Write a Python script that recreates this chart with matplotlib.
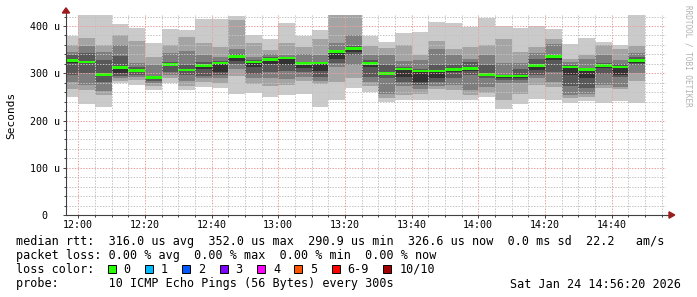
import numpy as np
import matplotlib
matplotlib.use("Agg")
import matplotlib.pyplot as plt
from matplotlib.patches import Polygon, Rectangle
from matplotlib.lines import Line2D
from matplotlib.ticker import MultipleLocator

# start of each 5 minute step, minutes after 12:00
step_start = np.arange(-5, 170, 5)

# the 10 pings of every step, sorted low -> high (units: us)
ping01 = [250, 235, 229, 279, 275, 264, 279, 265, 271, 268, 257, 258, 250, 255, 257, 229, 243, 269,
          260, 240, 244, 244, 244, 243, 243, 250, 224, 234, 245, 243, 236, 242, 238, 242, 238]
ping02 = [267, 265, 254, 283, 285, 272, 289, 273, 281, 280, 295, 278, 274, 276, 284, 277, 282, 291,
          274, 248, 253, 257, 267, 264, 255, 258, 243, 257, 275, 271, 247, 250, 268, 266, 283]
ping03 = [281, 275, 263, 289, 292, 280, 297, 284, 290, 290, 310, 290, 290, 288, 293, 283, 314, 317,
          282, 257, 272, 266, 274, 275, 265, 270, 280, 279, 290, 281, 253, 256, 275, 271, 300]
ping04 = [296, 301, 282, 294, 297, 284, 303, 296, 294, 296, 320, 299, 302, 304, 303, 293, 321, 338,
          292, 290, 282, 276, 282, 289, 296, 291, 286, 286, 297, 303, 273, 269, 298, 292, 318]
ping05 = [322, 322, 298, 301, 303, 289, 315, 305, 310, 303, 326, 313, 320, 318, 311, 305, 330, 346,
          314, 297, 293, 282, 291, 302, 305, 296, 289, 290, 307, 327, 297, 290, 312, 297, 322]
ping06 = [330, 326, 301, 313, 306, 291, 320, 309, 316, 322, 338, 325, 329, 331, 319, 322, 346, 352,
          321, 302, 309, 305, 305, 308, 310, 300, 295, 294, 318, 336, 313, 308, 318, 313, 326]
ping07 = [339, 342, 329, 336, 313, 293, 324, 317, 323, 326, 341, 327, 334, 335, 324, 324, 349, 357,
          328, 318, 313, 310, 317, 317, 324, 318, 297, 310, 330, 338, 317, 312, 321, 320, 335]
ping08 = [346, 357, 346, 360, 321, 317, 342, 347, 338, 335, 352, 334, 341, 338, 340, 339, 363, 380,
          339, 339, 325, 329, 352, 339, 331, 338, 321, 321, 342, 362, 324, 330, 338, 327, 342]
ping09 = [359, 374, 360, 381, 368, 335, 360, 376, 363, 356, 412, 365, 349, 363, 356, 372, 440, 440,
          357, 353, 360, 339, 369, 352, 356, 360, 372, 345, 356, 372, 331, 339, 360, 352, 358]
ping10 = [379, 440, 440, 404, 396, 364, 393, 391, 415, 414, 421, 380, 373, 406, 378, 391, 450, 450,
          379, 366, 385, 388, 408, 406, 398, 417, 399, 395, 400, 394, 362, 374, 367, 359, 450]

median = [327, 324, 298, 312, 306, 290.9, 318, 307, 317, 322, 336, 324, 329, 332, 320, 322, 346, 352,
          321, 300, 309, 305, 305, 308, 310, 298, 294, 294, 317, 336, 313, 308, 317, 313, 326.6]

xtick_pos = [0, 20, 40, 60, 80, 100, 120, 140, 160]
xtick_labels = ["12:00", "12:20", "12:40", "13:00", "13:20", "13:40", "14:00", "14:20", "14:40"]
ytick_pos = [0, 100, 200, 300, 400]
ytick_labels = ["0  ", "100 u", "200 u", "300 u", "400 u"]

loss_labels = ["0", "1", "2", "3", "4", "5", "6-9", "10/10"]
loss_colors = ["#26ff00", "#00b8ff", "#0059ff", "#7e00ff", "#ff00ff", "#ff5500", "#ff0000", "#a10000"]

legend_rtt = "median rtt:  316.0 us avg  352.0 us max  290.9 us min  326.6 us now  0.0 ms sd  22.2   am/s"
legend_loss = "packet loss: 0.00 % avg  0.00 % max  0.00 % min  0.00 % now"
legend_probe = "probe:       10 ICMP Echo Pings (56 Bytes) every 300s"
stamp = "Sat Jan 24 14:56:20 2026"

W, H = 697, 297
MONO = "DejaVu Sans Mono"
smoke_grays = ["#cacaca", "#a4a4a4", "#7e7e7e", "#585858", "#323232"]
arrow_col = "#9b1c1c"
axis_col = "#404040"

fig = plt.figure(figsize=(W / 100, H / 100), dpi=100)
fig.patch.set_facecolor("white")
ax = fig.add_axes([66 / W, (H - 215) / H, 600 / W, 200 / H])

# smoke: band between ping j and j+1, darker towards the middle
pings = [ping01, ping02, ping03, ping04, ping05, ping06, ping07, ping08, ping09, ping10]
for j in range(9):
    lo = np.array(pings[j], dtype=float)
    hi = np.array(pings[j + 1], dtype=float)
    ax.bar(step_start, hi - lo, bottom=lo, width=5, align="edge",
           color=smoke_grays[min(j, 8 - j)], linewidth=0, antialiased=False, zorder=1)

# median line in loss colour
med = np.array(median)
ax.bar(step_start, 5.6, bottom=med - 2.8, width=5, align="edge",
       color=loss_colors[0], linewidth=0, antialiased=False, zorder=1.5)

ax.set_xlim(-3.67, 176.33)
ax.set_ylim(0, 423.3)

ax.set_xticks(xtick_pos)
ax.set_xticklabels(xtick_labels)
ax.xaxis.set_minor_locator(MultipleLocator(5))
ax.set_yticks(ytick_pos)
ax.set_yticklabels(ytick_labels)
ax.yaxis.set_minor_locator(MultipleLocator(20))

for lab in ax.get_xticklabels() + ax.get_yticklabels():
    lab.set_fontfamily(MONO)
    lab.set_fontsize(7.2)
ax.tick_params(axis="both", which="major", length=2, width=0.7, color=axis_col, pad=2.2)
ax.tick_params(axis="both", which="minor", length=1.3, width=0.7, color=axis_col)
ax.tick_params(axis="x", pad=1.5)

ax.set_axisbelow(False)
ax.grid(which="minor", color="#c4c4c4", linestyle=(0, (1.4, 1.4)), linewidth=0.72)
ax.grid(which="major", color="#eaa0a0", linestyle=(0, (1.4, 1.4)), linewidth=0.72)

for s in ["top", "right"]:
    ax.spines[s].set_visible(False)
for s in ["left", "bottom"]:
    ax.spines[s].set_color(axis_col)
    ax.spines[s].set_linewidth(0.8)
    ax.spines[s].set_zorder(3)

# axis extensions with arrows
ax.add_line(Line2D([0, 0], [1, 1.02], transform=ax.transAxes, color=axis_col, lw=0.8, clip_on=False))
ax.add_line(Line2D([1, 1.006], [0, 0], transform=ax.transAxes, color=axis_col, lw=0.8, clip_on=False))
ax.add_patch(Polygon([[-0.006, 1.01], [0.006, 1.01], [0, 1.036]], closed=True, transform=ax.transAxes,
                     color=arrow_col, clip_on=False, zorder=4))
ax.add_patch(Polygon([[1.005, -0.016], [1.005, 0.016], [1.0145, 0]], closed=True, transform=ax.transAxes,
                     color=arrow_col, clip_on=False, zorder=4))

fig.text(11 / W, 1 - 115 / H, "Seconds", rotation=90, fontfamily=MONO, fontsize=8,
         ha="center", va="center")
fig.text(688 / W, 1 - 5 / H, "RRDTOOL / TOBI OETIKER", rotation=270, fontfamily=MONO,
         fontsize=5.5, color="#b0b0b0", ha="center", va="top")

# legend block
fs = 8.5
cw = 0.602 * fs * 100 / 72
fig.text(16 / W, 1 - 241 / H, legend_rtt, fontfamily=MONO, fontsize=fs, va="center")
fig.text(16 / W, 1 - 255.5 / H, legend_loss, fontfamily=MONO, fontsize=fs, va="center")
fig.text(16 / W, 1 - 269.5 / H, "loss color:", fontfamily=MONO, fontsize=fs, va="center")
x = 107.7
for lab, col in zip(loss_labels, loss_colors):
    fig.add_artist(Rectangle((x / W, 1 - 273 / H), 8 / W, 8 / H, transform=fig.transFigure,
                             facecolor=col, edgecolor="black", linewidth=0.7))
    fig.text((x + 16) / W, 1 - 269.5 / H, lab, fontfamily=MONO, fontsize=fs, va="center")
    x += 16 + len(lab) * cw + 2 * cw
fig.text(16 / W, 1 - 284 / H, legend_probe, fontfamily=MONO, fontsize=fs, va="center")
fig.text(681 / W, 1 - 284 / H, stamp, fontfamily=MONO, fontsize=fs, va="center", ha="right")

fig.savefig("out.png", dpi=100, facecolor="white")
